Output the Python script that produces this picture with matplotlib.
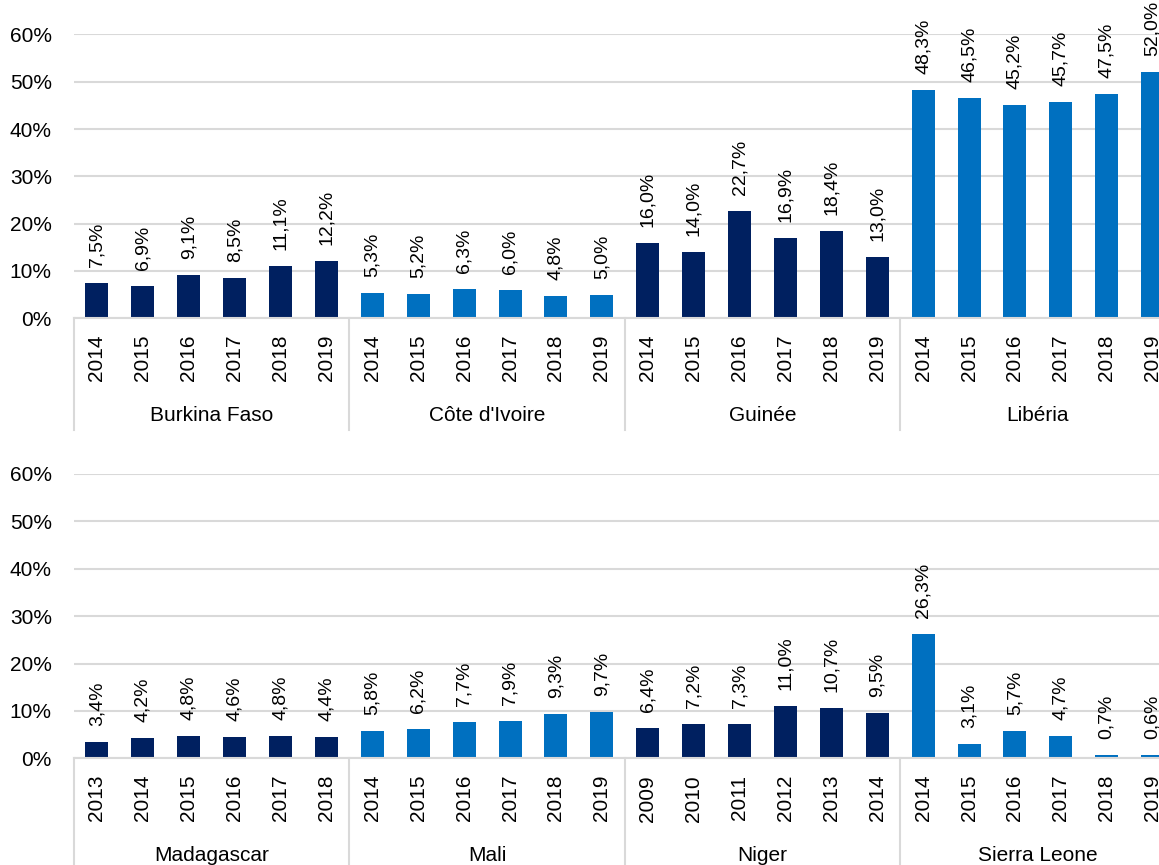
import matplotlib.pyplot as plt
import matplotlib.transforms as mtransforms
from matplotlib.lines import Line2D

plt.rcParams['font.family'] = ['Liberation Sans', 'DejaVu Sans']

# top panel
top_countries = ["Burkina Faso", "Côte d'Ivoire", "Guinée", "Libéria"]
top_years = [
    ["2014", "2015", "2016", "2017", "2018", "2019"],
    ["2014", "2015", "2016", "2017", "2018", "2019"],
    ["2014", "2015", "2016", "2017", "2018", "2019"],
    ["2014", "2015", "2016", "2017", "2018", "2019"],
]
top_values = [
    [7.5, 6.9, 9.1, 8.5, 11.1, 12.2],
    [5.3, 5.2, 6.3, 6.0, 4.8, 5.0],
    [16.0, 14.0, 22.7, 16.9, 18.4, 13.0],
    [48.3, 46.5, 45.2, 45.7, 47.5, 52.0],
]

# bottom panel
bottom_countries = ["Madagascar", "Mali", "Niger", "Sierra Leone"]
bottom_years = [
    ["2013", "2014", "2015", "2016", "2017", "2018"],
    ["2014", "2015", "2016", "2017", "2018", "2019"],
    ["2009", "2010", "2011", "2012", "2013", "2014"],
    ["2014", "2015", "2016", "2017", "2018", "2019"],
]
bottom_values = [
    [3.4, 4.2, 4.8, 4.6, 4.8, 4.4],
    [5.8, 6.2, 7.7, 7.9, 9.3, 9.7],
    [6.4, 7.2, 7.3, 11.0, 10.7, 9.5],
    [26.3, 3.1, 5.7, 4.7, 0.7, 0.6],
]

DARK = "#002060"
LIGHT = "#0070C0"
GRID = "#D9D9D9"

W, H = 1159, 865
fig = plt.figure(figsize=(W / 100, H / 100), dpi=100)


def panel(rect, countries, years, values, sep_len):
    ax = fig.add_axes(rect)
    n = sum(len(v) for v in values)
    xs, hs, cs, labels = [], [], [], []
    i = 0
    for g, vals in enumerate(values):
        for j, v in enumerate(vals):
            xs.append(i)
            hs.append(v)
            cs.append(DARK if g % 2 == 0 else LIGHT)
            labels.append(years[g][j])
            i += 1
    ax.bar(xs, hs, width=0.5, color=cs, zorder=3)
    for x, v in zip(xs, hs):
        ax.annotate(f"{v:.1f}%".replace(".", ","), (x, v), xytext=(0, 11.5),
                    textcoords="offset points", rotation=90, ha="center",
                    va="bottom", fontsize=14, clip_on=False)
    ax.set_xlim(-0.5, n - 0.5)
    ax.set_ylim(0, 60)
    ax.set_yticks(range(0, 61, 10))
    ax.set_yticklabels([f"{t}%" for t in range(0, 61, 10)], fontsize=15)
    ax.set_xticks(xs)
    ax.set_xticklabels(labels, rotation=90, fontsize=15)
    ax.tick_params(axis="x", length=0, pad=12)
    ax.tick_params(axis="y", length=0, pad=16)
    ax.grid(axis="y", color=GRID, lw=1.5, zorder=0)
    for s in ["top", "right", "left"]:
        ax.spines[s].set_visible(False)
    ax.spines["bottom"].set_color(GRID)
    ax.spines["bottom"].set_linewidth(1.5)
    ax.spines["bottom"].set_zorder(4)

    trans = mtransforms.blended_transform_factory(ax.transData, ax.transAxes)
    start = 0
    for g, vals in enumerate(values):
        k = len(vals)
        ax.add_line(Line2D([start - 0.5, start - 0.5], [0, -sep_len], transform=trans,
                           color=GRID, lw=1.5, clip_on=False))
        ax.text(start + (k - 1) / 2, -0.342, countries[g], transform=trans,
                ha="center", va="center", fontsize=15)
        start += k
    ax.add_line(Line2D([start - 0.5, start - 0.5], [0, -sep_len], transform=trans,
                       color=GRID, lw=1.5, clip_on=False))
    return ax


left = 74 / W
width = 24 * 45.9 / W
panel([left, (H - 318.3) / H, width, 283.8 / H], top_countries, top_years, top_values, 0.395)
panel([left, (H - 758.3) / H, width, 284.3 / H], bottom_countries, bottom_years, bottom_values, 0.45)

fig.savefig("out.png", dpi=100)
